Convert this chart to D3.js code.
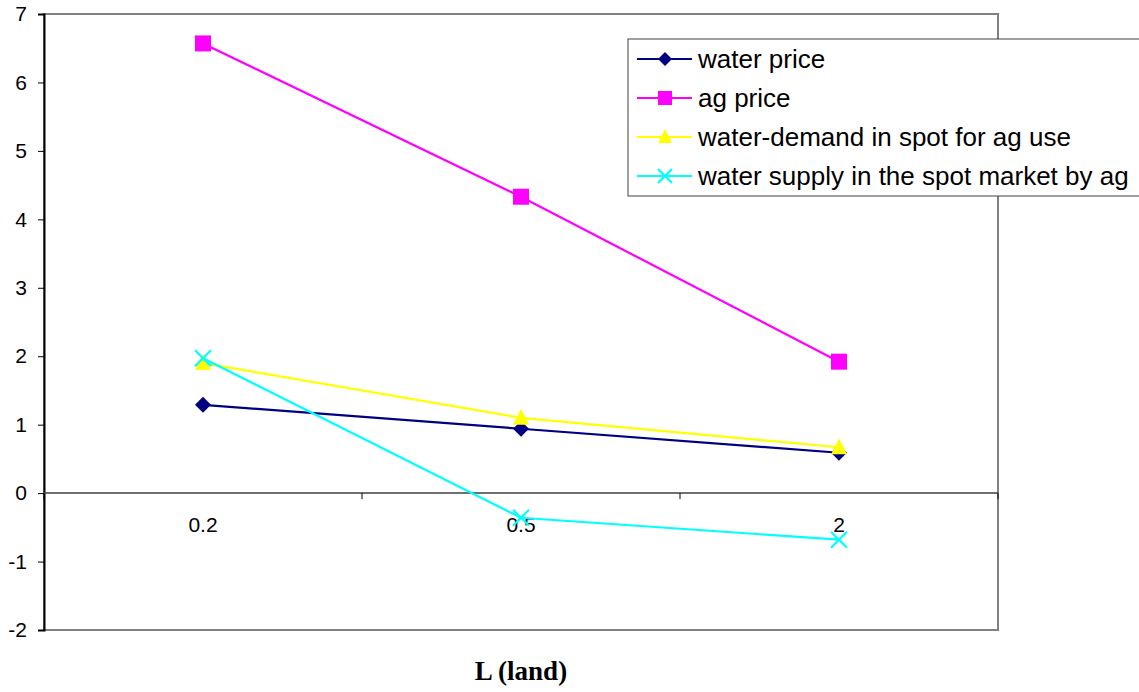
<!DOCTYPE html>
<html>
<head>
<meta charset="utf-8">
<script src="https://cdn.jsdelivr.net/npm/d3@7"></script>
<style>
  html, body { margin: 0; padding: 0; background: #fff; }
  svg { display: block; }
</style>
</head>
<body>
<svg id="chart" width="1139" height="692"></svg>
<script>
// Land levels on the x axis
const categories = ["0.2", "0.5", "2"];

// Series values per land level
const waterPrice = [1.29, 0.94, 0.59];
const agPrice = [6.57, 4.33, 1.92];
const waterDemand = [1.90, 1.10, 0.67];
const waterSupply = [1.97, -0.36, -0.68];

const yTicks = [-2, -1, 0, 1, 2, 3, 4, 5, 6, 7];

const seriesNames = [
  "water price",
  "ag price",
  "water-demand in spot for ag use",
  "water supply in the spot market by ag"
];

const series = [
  { name: seriesNames[0], values: waterPrice, color: "#000080", symbol: "diamond" },
  { name: seriesNames[1], values: agPrice, color: "#ff00ff", symbol: "square" },
  { name: seriesNames[2], values: waterDemand, color: "#ffff00", symbol: "triangle" },
  { name: seriesNames[3], values: waterSupply, color: "#00ffff", symbol: "cross" }
];

const FONT = "Arial, 'Liberation Sans', sans-serif";
const svg = d3.select("#chart");
const plot = { left: 44, top: 14, right: 998, bottom: 630 };

const x = d3.scaleBand().domain(categories).range([plot.left, plot.right]);
const y = d3.scaleLinear().domain([-2, 7]).range([plot.bottom, plot.top]);

// Plot area frame
svg.append("rect")
  .attr("x", plot.left).attr("y", plot.top)
  .attr("width", plot.right - plot.left).attr("height", plot.bottom - plot.top)
  .attr("fill", "#fff").attr("stroke", "#808080").attr("stroke-width", 2);

// Y axis (plain hyphen for negatives)
const yAxis = d3.axisLeft(y).tickValues(yTicks).tickSize(6).tickPadding(11)
  .tickFormat(d => String(d));
const yg = svg.append("g").attr("transform", `translate(${plot.left},0)`).call(yAxis);
yg.select(".domain").attr("stroke", "#000").attr("stroke-width", 2);
yg.selectAll(".tick line").attr("stroke", "#000");
yg.selectAll(".tick text").attr("font-family", FONT).attr("font-size", 21).attr("fill", "#000");

// X axis along zero line, category boundaries as ticks
const xg = svg.append("g").attr("transform", `translate(0,${y(0)})`);
xg.append("line").attr("x1", plot.left).attr("x2", plot.right).attr("y1", 0).attr("y2", 0)
  .attr("stroke", "#404040").attr("stroke-width", 1.5);
const boundaries = categories.map(c => x(c) + x.bandwidth()).concat([plot.left]);
xg.selectAll("line.tk").data(boundaries).enter().append("line")
  .attr("class", "tk")
  .attr("x1", d => d).attr("x2", d => d).attr("y1", 0).attr("y2", 6)
  .attr("stroke", "#000");
xg.selectAll("text").data(categories).enter().append("text")
  .attr("x", d => x(d) + x.bandwidth() / 2)
  .attr("y", 39)
  .attr("text-anchor", "middle")
  .attr("font-family", FONT)
  .attr("font-size", 21)
  .text(d => d);

// Axis title
svg.append("text")
  .attr("x", 521).attr("y", 680)
  .attr("text-anchor", "middle")
  .attr("font-family", "'Times New Roman', 'Liberation Serif', serif")
  .attr("font-weight", "bold")
  .attr("font-size", 27)
  .text("L (land)");

function drawMarker(g, symbol, color, cx, cy, r) {
  if (symbol === "diamond") {
    g.append("path").attr("d", `M${cx},${cy - r}L${cx + r},${cy}L${cx},${cy + r}L${cx - r},${cy}Z`).attr("fill", color);
  } else if (symbol === "square") {
    g.append("rect").attr("x", cx - r).attr("y", cy - r).attr("width", 2 * r).attr("height", 2 * r).attr("fill", color);
  } else if (symbol === "triangle") {
    g.append("path").attr("d", `M${cx},${cy - r - 1}L${cx + r},${cy + r - 1}L${cx - r},${cy + r - 1}Z`).attr("fill", color);
  } else if (symbol === "cross") {
    g.append("path").attr("d", `M${cx - r},${cy - r}L${cx + r},${cy + r}M${cx + r},${cy - r}L${cx - r},${cy + r}`)
      .attr("stroke", color).attr("stroke-width", 2.2).attr("fill", "none");
  }
}

const line = d3.line()
  .x((d, i) => x(categories[i]) + x.bandwidth() / 2)
  .y(d => y(d));

series.forEach(s => {
  const g = svg.append("g");
  g.append("path").datum(s.values).attr("d", line)
    .attr("fill", "none").attr("stroke", s.color).attr("stroke-width", 2.2);
  s.values.forEach((v, i) => drawMarker(g, s.symbol, s.color, x(categories[i]) + x.bandwidth() / 2, y(v), 8));
});

// Legend
const legend = svg.append("g");
legend.append("rect")
  .attr("x", 628).attr("y", 39).attr("width", 520).attr("height", 157)
  .attr("fill", "#fff").attr("stroke", "#404040").attr("stroke-width", 1);
series.forEach((s, i) => {
  const cy = 59 + i * 39;
  const row = legend.append("g");
  row.append("line").attr("x1", 637).attr("x2", 692).attr("y1", cy).attr("y2", cy)
    .attr("stroke", s.color).attr("stroke-width", 2.2);
  drawMarker(row, s.symbol, s.color, 665, cy, 7);
  row.append("text")
    .attr("x", 698).attr("y", cy + 9)
    .attr("font-family", FONT)
    .attr("font-size", 26)
    .text(s.name);
});
</script>
</body>
</html>
